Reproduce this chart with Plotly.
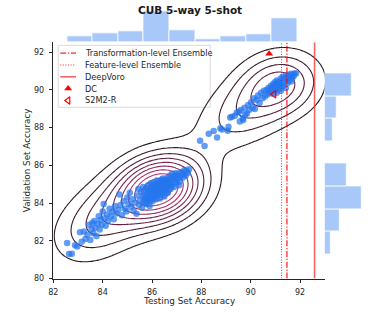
import numpy as np
import plotly.graph_objects as go

# ---------------- data ----------------
title_text = "CUB 5-way 5-shot"
x_label = "Testing Set Accuracy"
y_label = "Validation Set Accuracy"

# lower cluster (testing acc, validation acc)
test_lower = [
    82.56, 82.64, 82.75, 82.88, 82.97, 83.08, 83.15, 83.24, 83.30, 83.38, 83.45, 83.50, 83.55, 83.58,
    83.62, 83.66, 83.70, 83.75, 83.80, 83.84, 83.88, 83.92, 83.96, 84.00, 84.04, 84.08, 84.12, 84.18,
    84.22, 84.28, 84.33, 84.40, 84.45, 84.50, 84.56,
    84.64, 84.68, 84.72, 84.78, 84.85, 84.90, 84.96, 85.00, 85.05, 85.10, 85.15, 85.20, 85.25, 85.30,
    85.37, 85.40, 85.45, 85.48, 85.52, 85.56, 85.60, 85.63, 85.66, 85.64,
    85.72, 85.72, 85.75, 85.78, 85.78, 85.81, 85.84, 85.84, 85.87, 85.90,
    85.90, 85.93, 85.96, 85.96, 85.99, 86.02, 86.02, 86.05, 86.08, 86.08,
    86.11, 86.14, 86.14, 86.17, 86.20, 86.20, 86.23, 86.26, 86.26, 86.29,
    86.32, 86.32, 86.35, 86.38, 86.38, 86.41, 86.44, 86.44, 86.47, 86.50,
    86.50, 86.53, 86.56, 86.56, 86.59, 86.62, 86.62, 86.65, 86.68, 86.68,
    85.74, 85.83, 85.92, 86.00, 86.06, 86.12, 86.18, 86.24, 86.28, 86.33,
    86.37, 86.42, 86.46, 86.51, 86.55, 86.60, 86.64, 86.40, 86.16, 85.98,
    86.72, 86.72, 86.75, 86.78, 86.81, 86.81, 86.84, 86.87, 86.90, 86.90, 86.94, 86.97, 87.00, 87.00,
    87.04, 87.08, 87.12, 87.16, 87.20, 87.24, 87.28, 87.32, 87.36, 87.40, 87.45, 87.50, 87.10,
]
val_lower = [
    81.89, 81.30, 81.31, 81.77, 81.70, 82.45, 81.95, 82.50, 82.10, 82.32, 82.85, 82.05, 82.62, 82.95,
    82.40, 83.05, 82.70, 82.25, 82.90, 83.30, 82.60, 83.10, 82.85, 83.55, 83.95, 83.20, 82.80, 83.40,
    83.05, 83.70, 83.30, 83.55, 83.15, 83.85, 83.45,
    83.65, 84.45, 83.90, 83.35, 84.10, 83.70, 83.55, 84.30, 83.95, 84.55, 83.80, 84.20, 83.60, 84.00,
    83.44, 84.40, 84.75, 83.90, 84.15, 84.60, 83.75, 84.35, 84.05, 84.85,
    84.20, 84.65, 84.40, 83.95, 84.80, 84.50, 84.15, 84.95, 84.35, 84.60,
    83.85, 84.25, 84.75, 85.05, 84.45, 84.10, 84.85, 84.55, 84.30, 85.10,
    84.70, 84.45, 84.95, 84.20, 84.60, 85.20, 84.80, 84.40, 85.00, 84.65,
    84.90, 84.25, 84.55, 85.15, 84.75, 84.45, 84.85, 85.30, 84.60, 85.05,
    84.35, 84.80, 85.20, 84.55, 84.95, 84.70, 85.35, 85.10, 84.85, 85.25,
    84.05, 84.70, 84.10, 84.95, 84.65, 84.35, 85.00, 84.55, 85.15, 84.45,
    84.95, 84.65, 85.15, 84.70, 84.90, 85.15, 84.55, 85.25, 84.85, 84.30,
    85.00, 85.45, 84.75, 85.20, 85.55, 84.90, 85.30, 85.05, 85.45, 84.85, 85.25, 85.60, 85.10, 85.40,
    85.30, 85.55, 85.15, 85.45, 85.65, 85.35, 85.55, 85.75, 85.45, 85.70, 85.60, 85.80, 84.95,
]

# upper cluster
test_upper = [
    87.95, 88.13, 88.30, 88.50, 88.64, 88.77,
    88.84, 89.07, 89.10, 89.17, 89.24, 89.36, 89.44, 89.53, 89.56, 89.60, 89.68, 89.70, 89.75, 89.78,
    89.85, 89.90, 89.95, 90.02, 90.08, 90.14, 90.17, 90.24, 90.30, 90.36, 90.42, 90.48, 90.54, 90.58,
    90.64, 90.68, 90.72, 90.76,
    90.82, 90.82, 90.86, 90.90, 90.90, 90.94, 90.98, 90.98, 91.02, 91.04,
    91.06, 91.06, 91.10, 91.14, 91.14, 91.18, 91.22, 91.22, 91.26, 91.30,
    91.30, 91.34, 91.38, 91.42, 91.42, 91.44, 91.48, 91.52, 91.52, 91.56,
    91.60, 91.64, 91.64, 91.68, 91.70, 91.74, 91.78, 91.84,
]
val_upper = [
    87.31, 87.03, 87.68, 87.82, 87.47, 87.97,
    87.90, 87.84, 88.05, 88.53, 88.58, 88.63, 88.80, 88.84, 88.32, 88.93, 88.50, 88.40, 89.05, 88.70,
    88.75, 89.20, 88.95, 89.35, 89.05, 89.55, 88.99, 89.47, 89.70, 89.30, 89.85, 89.55, 89.95, 89.65,
    90.00, 89.75, 90.10, 89.85,
    89.90, 90.20, 90.05, 89.80, 90.30, 90.15, 89.95, 90.40, 90.10, 90.30,
    89.85, 90.50, 90.20, 90.05, 90.45, 90.30, 89.95, 90.60, 90.15, 90.40,
    90.70, 90.25, 90.55, 90.10, 90.75, 90.60, 90.35, 90.65, 90.80, 90.50,
    90.70, 90.45, 90.85, 90.62, 90.80, 90.72, 90.87, 90.87,
]
assert len(test_lower) == len(val_lower) and len(test_upper) == len(val_upper)

# marginal histograms (counts)
top_hist_counts = [14, 21, 24, 70, 27, 6, 14, 18, 53]
top_hist_range = [82.56, 91.88]
right_hist_counts = [12, 30, 71, 43, 0, 15, 24, 52]   # bottom -> top
right_hist_range = [81.30, 90.87]

# reference methods
transformation_ensemble = 91.47
feature_ensemble = 91.25
deepvoro = 92.59
dc_point = [90.75, 91.91]
s2m2r_point = [90.95, 89.77]

x_range = [82, 93]
y_range = [80, 92.52]
n_kde_levels = 10
bw_adjust = 1.1

# ---------------- layout geometry (pixels) ----------------
W, H = 374, 320
ax_l, ax_r, ax_t, ax_b = 49, 324, 43, 283
top_h_top = 9.4
right_h_right = 363


def px(x):
    return x / W


def py(y):
    return 1 - y / H


FONT = "DejaVu Sans"
TXT = "#262626"

test_all = np.array(test_lower + test_upper)
val_all = np.array(val_lower + val_upper)

# ---------------- KDE (bivariate, per-axis Scott bandwidth) ----------------
def scott_bw(v):
    n = len(v)
    iqr = (np.percentile(v, 75) - np.percentile(v, 25)) / 1.349
    a = min(v.std(ddof=1), iqr)
    return 1.059 * a * n ** (-1 / 5)


bx, by = scott_bw(test_all) * bw_adjust, scott_bw(val_all) * bw_adjust
gx = np.linspace(test_all.min() - 3 * bx, test_all.max() + 3 * bx, 220)
gy = np.linspace(val_all.min() - 3 * by, val_all.max() + 3 * by, 220)
kx = np.exp(-0.5 * ((gx[:, None] - test_all[None, :]) / bx) ** 2) / (bx * np.sqrt(2 * np.pi))
ky = np.exp(-0.5 * ((gy[:, None] - val_all[None, :]) / by) ** 2) / (by * np.sqrt(2 * np.pi))
Z = ky @ kx.T / len(test_all)

zmax = Z.max()
step = zmax / (n_kde_levels + 0.15)
lv_start = step
lv_end = n_kde_levels * step

fig = go.Figure()

# scatter
fig.add_trace(go.Scatter(
    x=test_all, y=val_all, mode="markers",
    marker=dict(size=6.5, color="rgba(38,118,238,0.72)", line=dict(width=0)),
    showlegend=False, hoverinfo="skip", xaxis="x", yaxis="y"))

# kde contours
fig.add_trace(go.Contour(
    x=gx, y=gy, z=Z, xaxis="x", yaxis="y",
    autocontour=False,
    contours=dict(start=lv_start, end=lv_end, size=step, coloring="lines"),
    line=dict(width=1.1, smoothing=1.0),
    colorscale=[[0, "#2a1820"], [0.45, "#7a2450"], [1, "#e0428c"]],
    zauto=False, zmin=lv_start, zmax=lv_end,
    showscale=False, hoverinfo="skip"))

# vertical reference lines
fig.add_trace(go.Scatter(x=[feature_ensemble] * 2, y=y_range, mode="lines",
                         line=dict(color="rgba(255,0,0,0.85)", width=1.1, dash="1px,1.6px"),
                         showlegend=False, hoverinfo="skip"))
fig.add_trace(go.Scatter(x=[transformation_ensemble] * 2, y=y_range, mode="lines",
                         line=dict(color="rgba(255,0,0,0.85)", width=1.3, dash="6px,1.8px,1.2px,1.8px"),
                         showlegend=False, hoverinfo="skip"))
fig.add_trace(go.Scatter(x=[deepvoro] * 2, y=y_range, mode="lines",
                         line=dict(color="rgba(245,60,60,0.8)", width=1.6),
                         showlegend=False, hoverinfo="skip"))

# DC & S2M2-R
fig.add_trace(go.Scatter(x=[dc_point[0]], y=[dc_point[1]], mode="markers",
                         marker=dict(symbol="triangle-up", size=7, color="red", line=dict(width=0)),
                         showlegend=False, hoverinfo="skip"))
fig.add_trace(go.Scatter(x=[s2m2r_point[0]], y=[s2m2r_point[1]], mode="markers",
                         marker=dict(symbol="triangle-left-open", size=6.5, color="red",
                                     line=dict(width=1.2, color="red")),
                         showlegend=False, hoverinfo="skip"))

# marginal histograms
t_edges = np.linspace(top_hist_range[0], top_hist_range[1], len(top_hist_counts) + 1)
t_w = t_edges[1] - t_edges[0]
fig.add_trace(go.Bar(x=(t_edges[:-1] + t_edges[1:]) / 2, y=top_hist_counts, width=t_w,
                     marker=dict(color="#a7c8f8", line=dict(color="white", width=0.8)),
                     xaxis="x2", yaxis="y2", showlegend=False, hoverinfo="skip"))
r_edges = np.linspace(right_hist_range[0], right_hist_range[1], len(right_hist_counts) + 1)
r_w = r_edges[1] - r_edges[0]
fig.add_trace(go.Bar(y=(r_edges[:-1] + r_edges[1:]) / 2, x=right_hist_counts, width=r_w,
                     orientation="h",
                     marker=dict(color="#a7c8f8", line=dict(color="white", width=0.8)),
                     xaxis="x3", yaxis="y3", showlegend=False, hoverinfo="skip"))

# ---------------- legend (drawn by hand on a pixel overlay axis) ----------------
leg_rows = [54, 66, 78, 90, 102]
leg_labels = ["Transformation-level Ensemble", "Feature-level Ensemble", "DeepVoro", "DC", "S2M2-R"]
lx0, lx1, ltext = 56, 72, 79
fig.add_trace(go.Scatter(x=[lx0, lx1], y=[leg_rows[0]] * 2, mode="lines",
                         line=dict(color="rgba(255,0,0,0.85)", width=1.3, dash="6px,1.8px,1.2px,1.8px"),
                         xaxis="x4", yaxis="y4", showlegend=False, hoverinfo="skip"))
fig.add_trace(go.Scatter(x=[lx0, lx1], y=[leg_rows[1]] * 2, mode="lines",
                         line=dict(color="rgba(255,0,0,0.85)", width=1.1, dash="1px,1.6px"),
                         xaxis="x4", yaxis="y4", showlegend=False, hoverinfo="skip"))
fig.add_trace(go.Scatter(x=[lx0, lx1], y=[leg_rows[2]] * 2, mode="lines",
                         line=dict(color="rgba(245,60,60,0.8)", width=1.6),
                         xaxis="x4", yaxis="y4", showlegend=False, hoverinfo="skip"))
fig.add_trace(go.Scatter(x=[(lx0 + lx1) / 2], y=[leg_rows[3]], mode="markers",
                         marker=dict(symbol="triangle-up", size=7, color="red"),
                         xaxis="x4", yaxis="y4", showlegend=False, hoverinfo="skip"))
fig.add_trace(go.Scatter(x=[(lx0 + lx1) / 2], y=[leg_rows[4]], mode="markers",
                         marker=dict(symbol="triangle-left-open", size=6.5, color="red",
                                     line=dict(width=1.2, color="red")),
                         xaxis="x4", yaxis="y4", showlegend=False, hoverinfo="skip"))

annotations = []
for r, lab in zip(leg_rows, leg_labels):
    annotations.append(dict(x=px(ltext), y=py(r), xref="paper", yref="paper", text=lab,
                            showarrow=False, xanchor="left", yanchor="middle",
                            font=dict(family=FONT, size=8.2, color=TXT)))
annotations.append(dict(x=0.5, y=py(10), xref="paper", yref="paper", text=title_text,
                        showarrow=False, xanchor="center", yanchor="middle",
                        font=dict(family=FONT, size=10.5, color="#1a1a1a", weight="bold")))
annotations.append(dict(x=px((ax_l + ax_r) / 2), y=py(305.5), xref="paper", yref="paper", text=x_label,
                        showarrow=False, xanchor="center", yanchor="middle",
                        font=dict(family=FONT, size=8.8, color=TXT)))
annotations.append(dict(x=px(23), y=py((ax_t + ax_b) / 2), xref="paper", yref="paper", text=y_label,
                        showarrow=False, xanchor="center", yanchor="middle", textangle=-90,
                        font=dict(family=FONT, size=8.8, color=TXT)))

shapes = [dict(type="rect", xref="paper", yref="paper", layer="below",
               x0=px(54), x1=px(208), y0=py(109), y1=py(46),
               fillcolor="rgba(255,255,255,0.8)", line=dict(color="#d0d0d0", width=0.8))]

tick_font = dict(family=FONT, size=8, color=TXT)
fig.update_layout(
    width=W, height=H, autosize=False,
    margin=dict(l=0, r=0, t=0, b=0),
    paper_bgcolor="white", plot_bgcolor="rgba(0,0,0,0)",
    showlegend=False,
    xaxis=dict(domain=[px(ax_l), px(ax_r)], range=x_range, anchor="y",
               tickmode="array", tickvals=[82, 84, 86, 88, 90, 92], ticks="outside",
               ticklen=3.5, tickwidth=1, tickcolor=TXT, showline=True, linecolor=TXT, linewidth=1.2,
               showgrid=False, zeroline=False, tickfont=tick_font, ticklabelstandoff=2),
    yaxis=dict(domain=[py(ax_b), py(ax_t)], range=y_range, anchor="x",
               tickmode="array", tickvals=[80, 82, 84, 86, 88, 90, 92], ticks="outside",
               ticklen=3.5, tickwidth=1, tickcolor=TXT, showline=True, linecolor=TXT, linewidth=1.2,
               showgrid=False, zeroline=False, tickfont=tick_font, ticklabelstandoff=3),
    xaxis2=dict(domain=[px(ax_l), px(ax_r)], range=x_range, anchor="y2", visible=False),
    yaxis2=dict(domain=[py(ax_t), py(top_h_top)], range=[0, max(top_hist_counts) * 1.05],
                anchor="x2", visible=False),
    xaxis3=dict(domain=[px(ax_r), px(right_h_right)], range=[0, max(right_hist_counts) * 1.05],
                anchor="y3", visible=False),
    yaxis3=dict(domain=[py(ax_b), py(ax_t)], range=y_range, anchor="x3", visible=False),
    xaxis4=dict(domain=[0, 1], range=[0, W], anchor="y4", visible=False),
    yaxis4=dict(domain=[0, 1], range=[H, 0], anchor="x4", visible=False),
    annotations=annotations,
    shapes=shapes,
    bargap=0,
)

fig.write_html("out.html", config={"displayModeBar": False},
               post_script="document.body.style.margin='0';")
